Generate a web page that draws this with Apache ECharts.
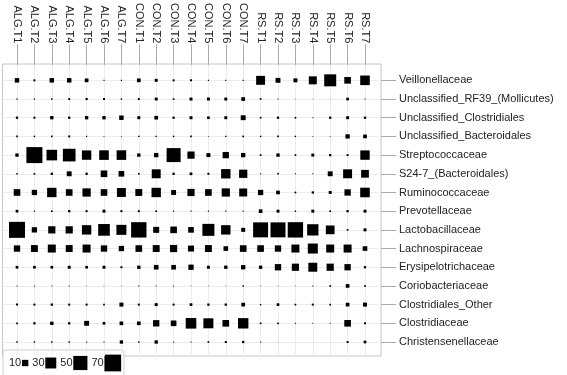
<!DOCTYPE html>
<html>
<head>
<meta charset="utf-8">
<script src="https://cdn.jsdelivr.net/npm/echarts@6/dist/echarts.min.js"></script>
<style>
html, body { margin: 0; padding: 0; background: #fff; }
#chart { width: 567px; height: 375px; }
</style>
</head>
<body>
<div id="chart"></div>
<script>
var samples = ['ALG.T1', 'ALG.T2', 'ALG.T3', 'ALG.T4', 'ALG.T5', 'ALG.T6', 'ALG.T7',
               'CON.T1', 'CON.T2', 'CON.T3', 'CON.T4', 'CON.T5', 'CON.T6', 'CON.T7',
               'RS.T1', 'RS.T2', 'RS.T3', 'RS.T4', 'RS.T5', 'RS.T6', 'RS.T7'];

// top to bottom as drawn
var families = ['Veillonellaceae', 'Unclassified_RF39_(Mollicutes)', 'Unclassified_Clostridiales',
                'Unclassified_Bacteroidales', 'Streptococcaceae', 'S24-7_(Bacteroidales)',
                'Ruminococcaceae', 'Prevotellaceae', 'Lactobacillaceae', 'Lachnospiraceae',
                'Erysipelotrichaceae', 'Coriobacteriaceae', 'Clostridiales_Other',
                'Clostridiaceae', 'Christensenellaceae'];

//                     ALG.T1..T7                         CON.T1..T7                          RS.T1..T7
var veillonellaceae  = [5, 1, 5, 5, 3.5, 0.3, 0.3,        3.5, 2.2, 1, 1, 0.3, 0.3, 0.3,       20, 6, 4, 16, 36, 11, 23];
var rf39             = [0.4, 0.4, 0.6, 0.9, 1.2, 1, 0.5,  0.9, 2.2, 0.7, 2.2, 2.2, 2.2, 3.5,   0.7, 0.3, 0.1, 0.1, 0.1, 1.8, 0.3];
var unclClostridiales = [1.3, 1, 2.8, 1.3, 2.8, 2.8, 5,   2.2, 3.4, 1.3, 2.2, 1.8, 2.2, 6,     0.7, 1.3, 0.7, 0.2, 1.3, 2.2, 1.3];
var unclBacteroidales = [0.7, 0.5, 0.7, 1, 0.3, 0.2, 0.2, 0.5, 0.5, 0.5, 0.7, 0.2, 0.5, 0.7,   0.5, 0.7, 0.5, 0.2, 0.2, 4.7, 3.5];
var streptococcaceae = [2.8, 64, 28, 40, 22, 23, 23,      2.8, 4.7, 49, 13, 4, 10, 4.7,        0.7, 2.8, 0.7, 2.2, 1.3, 1, 22];
var s24_7            = [0.5, 0.7, 1.3, 6, 1.3, 11, 8,     0.7, 20, 1.3, 1.8, 1, 22, 17,        0.3, 0.7, 0.3, 0.3, 6, 20, 15];
var ruminococcaceae  = [11, 7, 22, 11, 17, 11, 20,        12, 22, 6, 13, 11, 17, 16,           7, 3.4, 0.7, 1.3, 2.2, 10, 23];
var prevotellaceae   = [1.8, 0.3, 0.7, 1.3, 1, 2.2, 1,    1, 0.7, 0.3, 0.3, 0.3, 0.3, 0.3,     3.4, 2.2, 0.5, 2.2, 0.7, 1.3, 2.2];
var lactobacillaceae = [64, 7, 13, 13, 22, 34, 25,        59, 9, 11, 8, 36, 22, 4,             56, 56, 59, 32, 19, 0.7, 2.2];
var lachnospiraceae  = [10, 12, 16, 12, 16, 10, 7,        11, 12, 13, 9, 12, 5.4, 11,          11, 10, 16, 25, 16, 16, 5.4];
var erysipelotrichaceae = [1.8, 1.8, 1.8, 2.2, 1.8, 2.2, 1, 2.8, 5.4, 5.4, 7, 2.2, 2.8, 4.7,   2.8, 10, 13, 20, 13, 10, 1.3];
var coriobacteriaceae = [0.2, 0.2, 0.2, 0.2, 0.1, 0.1, 0.1, 0.3, 0.2, 0.2, 0.1, 0.1, 0.1, 0.5, 0.1, 0.1, 0.1, 0.3, 0.7, 3.4, 0.7];
var clostridialesOther = [1, 1, 1.3, 1, 1, 0.7, 4,        1, 2.2, 1, 1.8, 1.3, 1.3, 3.4,       0.5, 1.8, 0.7, 1, 0.7, 3.4, 4];
var clostridiaceae   = [0.7, 1.3, 2.8, 1.3, 6, 1.8, 3.4,  3.4, 10, 8, 28, 25, 11, 27,          0.7, 0.7, 0.3, 0.2, 0.2, 11, 1];
var christensenellaceae = [0.5, 0.5, 0.5, 0.5, 0.3, 0.3, 2.8, 0.5, 2.8, 0.3, 0.3, 0.7, 1, 1.3, 0.3, 0.1, 0, 0, 0, 1, 1.8];

var rows = [veillonellaceae, rf39, unclClostridiales, unclBacteroidales, streptococcaceae,
            s24_7, ruminococcaceae, prevotellaceae, lactobacillaceae, lachnospiraceae,
            erysipelotrichaceae, coriobacteriaceae, clostridialesOther, clostridiaceae,
            christensenellaceae];

var legendValues = [10, 30, 50, 70];

var FONT = 'Liberation Sans, Arial, sans-serif';
var GRID_COLOR = '#ececec';
var TICK_COLOR = '#aaa';

// square side grows with sqrt of the value
function side(v) {
    return 2 * Math.sqrt(v);
}

var points = [];
rows.forEach(function(row, i) {
    row.forEach(function(v, j) {
        points.push([j, i, v]);
    });
});

// short stubs that carry the grid lines out to the panel border
function stubAxis(type, position, offset, cats) {
    var ax = {
        type: 'category', data: cats, gridIndex: 1, position: position, offset: offset,
        boundaryGap: false,
        axisLine: { show: false },
        axisTick: { show: true, inside: true, length: offset, interval: 0, lineStyle: { color: GRID_COLOR } },
        axisLabel: { show: false },
        splitLine: { show: false }
    };
    if (type === 'y') ax.inverse = true;
    return ax;
}

// legend key, laid out left to right
var legendChildren = [{
    type: 'rect',
    shape: { x: 0, y: 0, width: 121, height: 30, r: 3 },
    style: { fill: '#fff', stroke: '#cfcfcf', lineWidth: 1 }
}];
var cx = 6;
legendValues.forEach(function(v) {
    var s = side(v);
    legendChildren.push({
        type: 'text',
        style: { text: String(v), x: cx, y: 13, verticalAlign: 'middle', font: '11px ' + FONT, fill: '#222' }
    });
    legendChildren.push({
        type: 'rect',
        shape: { x: cx + 13, y: 13 - s / 2, width: s, height: s },
        style: { fill: '#000' }
    });
    cx += 13 + s + 4;
});

var myChart = echarts.init(document.getElementById('chart'));
var option = {
    animation: false,
    grid: [
        // panel border
        { left: 2.5, right: 186, top: 64, bottom: 19, show: true, borderColor: '#c4c4c4', borderWidth: 1 },
        // data area
        { left: 17, right: 202, top: 79, bottom: 33 }
    ],
    xAxis: [
        { type: 'value', gridIndex: 0, show: false, min: 0, max: 1 },
        {
            type: 'category', data: samples, gridIndex: 1, position: 'top', offset: 15,
            boundaryGap: false,
            axisLine: { show: false },
            axisTick: { show: true, length: 21, interval: 0, lineStyle: { color: TICK_COLOR } },
            axisLabel: { rotate: 90, margin: 22, interval: 0, fontSize: 11, fontFamily: FONT, color: '#222' },
            splitLine: { show: true, interval: 0, lineStyle: { color: GRID_COLOR } }
        },
        stubAxis('x', 'top', 15, samples),
        stubAxis('x', 'bottom', 14, samples)
    ],
    yAxis: [
        { type: 'value', gridIndex: 0, show: false, min: 0, max: 1 },
        {
            type: 'category', data: families, gridIndex: 1, position: 'right', offset: 16,
            inverse: true, boundaryGap: false,
            axisLine: { show: false },
            axisTick: { show: true, length: 15, interval: 0, lineStyle: { color: TICK_COLOR } },
            axisLabel: { margin: 18, interval: 0, fontSize: 11, fontFamily: FONT, color: '#222' },
            splitLine: { show: true, interval: 0, lineStyle: { color: GRID_COLOR } }
        },
        stubAxis('y', 'right', 16, families),
        stubAxis('y', 'left', 14.5, families)
    ],
    series: [{
        type: 'scatter',
        xAxisIndex: 1,
        yAxisIndex: 1,
        symbol: 'rect',
        data: points,
        symbolSize: function(d) { return side(d[2]); },
        itemStyle: { color: '#000', opacity: 1 }
    }],
    graphic: [{
        type: 'group',
        x: 3, y: 350,
        children: legendChildren
    }]
};
myChart.setOption(option);
</script>
</body>
</html>
